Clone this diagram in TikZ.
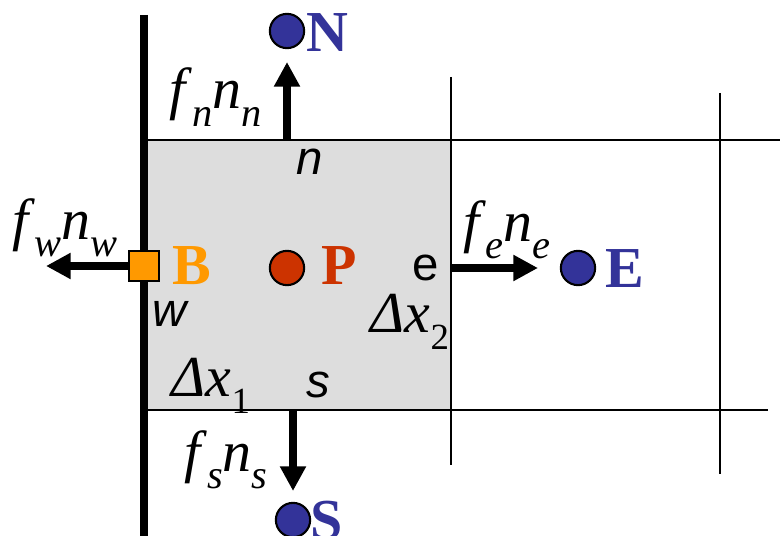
\documentclass[tikz,border=0pt]{standalone}
\usepackage{fontspec}
\setmainfont{Liberation Serif}
\newfontfamily\facefont{Liberation Sans}
\usetikzlibrary{positioning, arrows.meta}

\definecolor{nodeblue}{HTML}{333399}
\definecolor{nodered}{HTML}{CC3300}
\definecolor{bndorange}{HTML}{FF9900}
\definecolor{cellgray}{HTML}{DDDDDD}

% flux label f_x n_x
\newcommand{\fluxlab}[1]{\textit{f}\raisebox{-.3em}{\fontsize{23}{25}\selectfont\textit{#1}}\textit{n}\raisebox{-.3em}{\fontsize{23}{25}\selectfont\textit{#1}}}
\newcommand{\dxlab}[1]{\textit{Δx}\raisebox{-.3em}{\fontsize{21}{23}\selectfont #1}}

\begin{document}
\begin{tikzpicture}[x=0.02cm, y=-0.02cm,
    grid/.style={line width=1.3pt},
    flux/.style={line width=4.4pt, -{Triangle[length=14pt, width=14pt]}},
    pt/.style={circle, draw=black, line width=1.2pt, minimum size=19.5pt, inner sep=0pt},
    ptname/.style={font=\fontsize{33}{36}\selectfont\bfseries, inner sep=0pt},
    facelab/.style={font=\fontsize{27}{30}\selectfont\facefont\itshape, inner sep=0pt},
    mathlab/.style={font=\fontsize{33}{36}\selectfont, inner sep=0pt}]
  \useasboundingbox (0,0) rectangle (780,536);
  % control volume
  \fill[cellgray] (144,140) rectangle (451,410);
  \draw[grid] (144,140) -- (780,140);
  \draw[grid] (144,410) -- (768,410);
  \draw[grid] (451,77) -- (451,465);
  \draw[grid] (720,93) -- (720,474);
  \draw[line width=4pt] (144,15) -- (144,536);
  % points
  \node[pt, fill=nodered] (P) at (287,268) {};
  \node[pt, fill=nodeblue] (N) at (287,31) {};
  \node[pt, fill=nodeblue] (E) at (578,268) {};
  \node[pt, fill=nodeblue] (S) at (293,520) {};
  \node[draw=black, line width=1.2pt, fill=bndorange, minimum size=17pt, inner sep=0pt] (B) at (144,266) {};
  \node[ptname, text=nodered] at (339,266) {P};
  \node[ptname, text=nodeblue] at (327,33) {N};
  \node[ptname, text=nodeblue] at (625,269) {E};
  \node[ptname, text=nodeblue] at (327,521) {S};
  \node[ptname, text=bndorange] at (192,266) {B};
  % faces
  \coordinate (fn) at (287,141);
  \coordinate (fs) at (293,409);
  \coordinate (fe) at (452,268);
  \coordinate (tn) at (287,62);
  \coordinate (ts) at (293,491);
  \coordinate (te) at (538,268);
  \coordinate (tw) at (46,266);
  \draw[flux] (fn) -- (tn);
  \draw[flux] (fs) -- (ts);
  \draw[flux] (fe) -- (te);
  \draw[flux] (B.west) -- (tw);
  \node[facelab] at (310,162) {n};
  \node[facelab] at (170,314) {w};
  \node[facelab, font=\fontsize{27}{30}\selectfont\facefont] at (426,268) {e};
  \node[facelab] at (318,385) {s};
  \node[mathlab] at (216,97) {\fluxlab{n}};
  \node[mathlab] at (65,228) {\fluxlab{w}};
  \node[mathlab] at (507,230) {\fluxlab{e}};
  \node[mathlab] at (226,460) {\fluxlab{s}};
  \node[mathlab] at (410,322) {\dxlab{2}};
  \node[mathlab] at (211,386) {\dxlab{1}};
\end{tikzpicture}
\end{document}
